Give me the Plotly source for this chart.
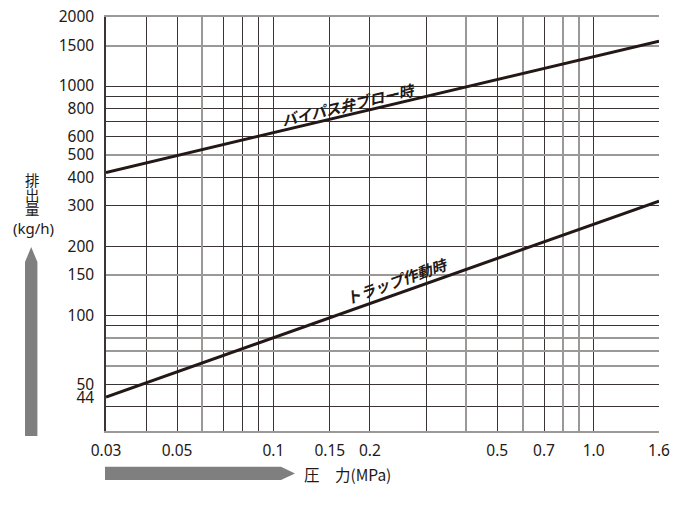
import math
import plotly.graph_objects as go

# ---------------- data ----------------
pressure = [0.03, 1.6]                 # MPa
bypass_flow = [420, 1570]              # kg/h  (バイパス弁ブロー時)
trap_flow = [44, 315]                  # kg/h  (トラップ作動時)

x_tick_vals = [0.03, 0.05, 0.1, 0.15, 0.2, 0.5, 0.7, 1.0, 1.6]
x_tick_text = ["0.03", "0.05", "0.1", "0.15", "0.2", "0.5", "0.7", "1.0", "1.6"]
x_grid_dark = [0.04, 0.05, 0.07, 0.08, 0.09, 0.1, 0.15, 0.2, 0.3, 0.5, 0.7, 1.0]
x_grid_grey = [0.06, 0.4, 0.6, 0.8, 0.9, 1.6]

y_tick_vals = [2000, 1500, 1000, 800, 600, 500, 400, 300, 200, 150, 100, 50, 44]
y_tick_text = ["2000", "1500", "1000", "800", "600", "500", "400", "300", "200", "150", "100", "50", "44"]
y_grid_dark = [1000, 900, 800, 700, 600, 400, 300, 200, 100, 90, 50, 40]
y_grid_grey = [2000, 1500, 500, 150, 80, 70, 60]

x_range = [0.03, 1.6]
y_range = [31.3, 2000]

series_names = ["バイパス弁ブロー時", "トラップ作動時"]

# ---------------- style ----------------
INK = "#231815"
DARK = "#3a3534"
GREY = "#9b9898"
ARROW = "#7f7f7f"
W, H = 700, 507
# target plot area in page pixels (body margin removed via post_script)
PL, PR, PT, PB = 106, 659, 17, 431
ML, MT = PL, PT
MR, MB = W - PR, H - PB
PW, PH = PR - PL, PB - PT


def px(x):
    return (x - PL) / PW


def py(y):
    return (PB - y) / PH


fig = go.Figure()
fig.add_trace(go.Scatter(x=pressure, y=bypass_flow, mode="lines",
                         line=dict(color=INK, width=3), name=series_names[0],
                         xaxis="x", yaxis="y"))
fig.add_trace(go.Scatter(x=pressure, y=trap_flow, mode="lines",
                         line=dict(color=INK, width=3), name=series_names[1],
                         xaxis="x", yaxis="y"))

lx = [math.log10(v) for v in x_range]
ly = [math.log10(v) for v in y_range]
tick_font = dict(family="Noto Sans, sans-serif", size=15.5, color=INK)

fig.update_layout(
    width=W, height=H,
    margin=dict(l=ML, r=MR, t=MT, b=MB, pad=0),
    paper_bgcolor="white", plot_bgcolor="white",
    showlegend=False,
    xaxis=dict(type="log", range=lx, tickmode="array", tickvals=x_tick_vals,
               ticktext=x_tick_text, showgrid=False, zeroline=False,
               ticks="", ticklabelstandoff=4, tickfont=tick_font,
               ticklabeloverflow="allow",
               showline=True, linecolor=GREY, linewidth=2, mirror=True,
               automargin=False,
               minor=dict(tickmode="array", tickvals=x_grid_dark, showgrid=True,
                          gridcolor=DARK, gridwidth=1.2, ticks="")),
    yaxis=dict(type="log", range=ly, tickmode="array", tickvals=y_tick_vals,
               ticktext=y_tick_text, showgrid=False, zeroline=False,
               ticks="", ticklabelstandoff=7, tickfont=tick_font,
               ticklabeloverflow="allow",
               showline=True, linecolor=DARK, linewidth=1.5, mirror=False,
               automargin=False,
               minor=dict(tickmode="array", tickvals=y_grid_dark, showgrid=True,
                          gridcolor=DARK, gridwidth=1.2, ticks="")),
    xaxis2=dict(type="log", range=lx, overlaying="x", anchor="y",
                tickmode="array", tickvals=x_grid_grey, showticklabels=False,
                showgrid=True, gridcolor=GREY, gridwidth=1.5, zeroline=False,
                ticks="", showline=False, automargin=False),
    yaxis2=dict(type="log", range=ly, overlaying="y", anchor="x",
                tickmode="array", tickvals=y_grid_grey, showticklabels=False,
                showgrid=True, gridcolor=GREY, gridwidth=1.5, zeroline=False,
                ticks="", showline=False, automargin=False),
)

# invisible helper so the overlay axes exist
fig.add_trace(go.Scatter(x=[x_range[0]], y=[y_range[0]], mode="markers",
                         marker=dict(opacity=0), xaxis="x2", yaxis="y2",
                         hoverinfo="skip", showlegend=False))

# curve labels
label_font = dict(family="Noto Sans CJK JP, sans-serif", size=15, color=INK,
                  weight="bold", style="italic")
fig.add_annotation(x=math.log10(0.171), y=math.log10(830), xref="x", yref="y",
                   text=series_names[0], showarrow=False, textangle=-13.3,
                   font=label_font)
fig.add_annotation(x=math.log10(0.243), y=math.log10(142), xref="x", yref="y",
                   text=series_names[1], showarrow=False, textangle=-19.4,
                   font=label_font)

# y-axis title, stacked
ttl_font = dict(family="Noto Sans CJK JP, sans-serif", size=14.5, color=INK)
for ch, yc in [("排", 179.5), ("出", 194), ("量", 208)]:
    fig.add_annotation(x=px(32), y=py(yc), xref="paper", yref="paper",
                       text=ch, showarrow=False, font=ttl_font,
                       xanchor="center", yanchor="middle")
fig.add_annotation(x=px(33), y=py(227.5), xref="paper", yref="paper",
                   text="(kg/h)", showarrow=False,
                   font=dict(family="Noto Sans, sans-serif", size=15, color=INK),
                   xanchor="center", yanchor="middle")

# x-axis title
fig.add_annotation(x=px(302), y=py(474), xref="paper", yref="paper",
                   text="圧　力(MPa)", showarrow=False,
                   font=dict(family="Noto Sans CJK JP, sans-serif", size=15.5, color=INK),
                   xanchor="left", yanchor="middle")

# arrows
def path(points):
    return "M " + " L ".join(f"{px(a):.5f},{py(b):.5f}" for a, b in points) + " Z"

fig.add_shape(type="path", xref="paper", yref="paper",
              path=path([(25, 436), (25, 262), (31.2, 247), (37.4, 262), (37.4, 436)]),
              fillcolor=ARROW, line=dict(width=0))
fig.add_shape(type="path", xref="paper", yref="paper",
              path=path([(105, 466.7), (281, 466.7), (295, 473.4), (281, 480), (105, 480)]),
              fillcolor=ARROW, line=dict(width=0))

fig.write_html("out.html", config={"displayModeBar": False},
               post_script="document.body.style.margin='0';")
